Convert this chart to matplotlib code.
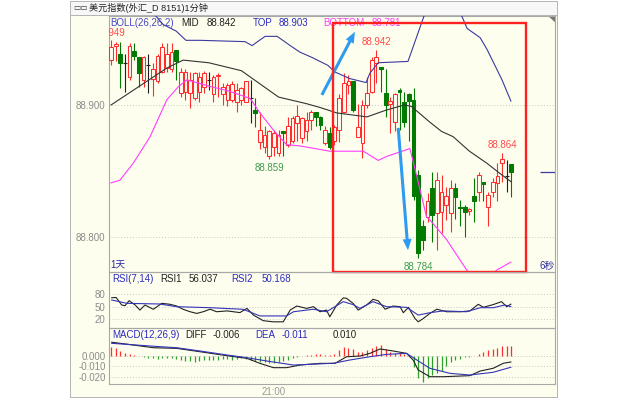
import matplotlib

matplotlib.use("Agg")

import matplotlib.pyplot as plt  # noqa: E402
from matplotlib.patches import Polygon, Rectangle  # noqa: E402

plt.rcParams["font.family"] = ["Liberation Sans", "Noto Sans CJK SC", "DejaVu Sans"]
plt.rcParams["axes.unicode_minus"] = False

# 1-minute candles
opens = [88.934, 88.945, 88.939, 88.932, 88.921, 88.941, 88.936, 88.919, 88.930, 88.920,
         88.918, 88.925, 88.928, 88.927, 88.942, 88.909, 88.910, 88.909, 88.905, 88.910,
         88.914, 88.919, 88.908, 88.922, 88.908, 88.904, 88.904, 88.902, 88.904, 88.902,
         88.905, 88.896, 88.872, 88.868, 88.861, 88.868, 88.864, 88.880, 88.870, 88.873,
         88.886, 88.875, 88.880, 88.889, 88.895, 88.891, 88.871, 88.879, 88.873, 88.881,
         88.895, 88.915, 88.918, 88.876, 88.871, 88.900, 88.910, 88.932, 88.929, 88.909,
         88.901, 88.887, 88.911, 88.902, 88.908, 88.904, 88.847, 88.808, 88.815, 88.837,
         88.818, 88.819, 88.824, 88.818, 88.837, 88.823, 88.823, 88.820, 88.831, 88.834,
         88.842, 88.823, 88.834, 88.841, 88.856, 88.846, 88.855]
highs = [88.949, 88.948, 88.948, 88.939, 88.947, 88.947, 88.936, 88.937, 88.939, 88.932,
         88.939, 88.947, 88.947, 88.947, 88.942, 88.928, 88.927, 88.925, 88.925, 88.925,
         88.926, 88.925, 88.923, 88.924, 88.917, 88.917, 88.918, 88.917, 88.914, 88.918,
         88.919, 88.905, 88.895, 88.884, 88.881, 88.881, 88.881, 88.880, 88.891, 88.892,
         88.900, 88.891, 88.895, 88.896, 88.895, 88.892, 88.884, 88.883, 88.885, 88.908,
         88.924, 88.923, 88.918, 88.901, 88.904, 88.921, 88.936, 88.942, 88.929, 88.927,
         88.906, 88.909, 88.913, 88.910, 88.909, 88.913, 88.851, 88.813, 88.833, 88.849,
         88.849, 88.847, 88.838, 88.843, 88.841, 88.828, 88.824, 88.822, 88.845, 88.849,
         88.842, 88.834, 88.845, 88.856, 88.864, 88.858, 88.855]
lows = [88.930, 88.933, 88.913, 88.910, 88.919, 88.934, 88.914, 88.914, 88.909, 88.907,
        88.917, 88.924, 88.925, 88.925, 88.919, 88.906, 88.904, 88.898, 88.904, 88.902,
        88.909, 88.911, 88.902, 88.906, 88.900, 88.899, 88.902, 88.895, 88.900, 88.902,
        88.886, 88.883, 88.867, 88.864, 88.859, 88.861, 88.861, 88.861, 88.868, 88.871,
        88.873, 88.871, 88.873, 88.881, 88.884, 88.881, 88.870, 88.867, 88.870, 88.872,
        88.894, 88.908, 88.895, 88.876, 88.860, 88.898, 88.909, 88.917, 88.910, 88.891,
        88.879, 88.880, 88.881, 88.883, 88.873, 88.828, 88.784, 88.790, 88.811, 88.796,
        88.790, 88.803, 88.813, 88.804, 88.814, 88.808, 88.800, 88.817, 88.811, 88.827,
        88.827, 88.808, 88.830, 88.827, 88.842, 88.834, 88.830]
closes = [88.944, 88.946, 88.932, 88.932, 88.945, 88.937, 88.924, 88.936, 88.930, 88.927,
          88.937, 88.944, 88.939, 88.940, 88.933, 88.925, 88.925, 88.919, 88.924, 88.921,
          88.924, 88.919, 88.921, 88.923, 88.914, 88.915, 88.916, 88.911, 88.913, 88.918,
          88.905, 88.894, 88.881, 88.877, 88.880, 88.879, 88.877, 88.879, 88.884, 88.890,
          88.892, 88.890, 88.889, 88.895, 88.891, 88.885, 88.881, 88.868, 88.883, 88.905,
          88.917, 88.918, 88.896, 88.883, 88.900, 88.909, 88.934, 88.936, 88.927, 88.900,
          88.903, 88.908, 88.910, 88.887, 88.903, 88.831, 88.788, 88.798, 88.827, 88.817,
          88.843, 88.834, 88.831, 88.837, 88.830, 88.822, 88.819, 88.821, 88.827, 88.847,
          88.840, 88.832, 88.842, 88.846, 88.859, 88.846, 88.849]

# BOLL(26,26,2) lines, sampled at candle positions
top_x = [0, 5, 9, 11.2, 14, 16.1, 19.1, 28.8, 30.3, 33.1, 35.7, 38.5, 40.6, 43.2, 46.6,
         48.1, 51.3, 54.8, 55.6, 57.4, 63.8, 66.4, 67.2, 70, 73, 75.4, 76.5, 79.3, 80.8,
         84, 85.9]
top_val = [88.975, 88.974, 88.970, 88.961, 88.956, 88.949, 88.949, 88.948, 88.945, 88.952,
           88.952, 88.945, 88.940, 88.936, 88.930, 88.925, 88.920, 88.917, 88.924, 88.932,
           88.933, 88.959, 88.967, 88.985, 88.985, 88.967, 88.958, 88.951, 88.942, 88.919,
           88.903]
mid_x = [0, 6, 12, 15.5, 21, 28, 32, 36, 42, 45, 48.5, 55, 59, 63, 64.5, 68.5, 71, 73.5,
         77, 80.7, 83.6, 85.9]
mid_val = [88.900, 88.914, 88.928, 88.934, 88.932, 88.926, 88.916, 88.906, 88.901, 88.898,
           88.894, 88.891, 88.896, 88.900, 88.899, 88.887, 88.880, 88.876, 88.865, 88.856,
           88.848, 88.842]
bot_x = [0, 1.9, 4.8, 8.4, 12, 14.5, 16.3, 18.4, 21.3, 24.9, 29.9, 32, 34.9, 37.7, 40.6,
         47, 54.2, 57.4, 59.2, 64.2, 65.7, 67.8, 68.5, 72.1, 76.4, 78, 80, 82.9, 85.9]
bot_val = [88.841, 88.843, 88.856, 88.876, 88.904, 88.914, 88.919, 88.917, 88.914, 88.911,
           88.905, 88.894, 88.881, 88.870, 88.869, 88.865, 88.865, 88.858, 88.861, 88.867,
           88.846, 88.815, 88.813, 88.798, 88.775, 88.768, 88.766, 88.775, 88.781]

# RSI(7,14)
rsi1_x = [0.15, 1.1, 2.3, 3.0, 3.9, 5.2, 6.2, 7.3, 9.1, 10.9, 12.7, 14.1, 15.5, 17, 18.4,
          19.8, 21.3, 22.7, 24.9, 26.3, 27.7, 29.2, 30.6, 32.7, 34.9, 37, 38.5, 39.9, 42,
          43.5, 44.9, 46.3, 47, 48.5, 49.9, 50.6, 52, 53.1, 54.9, 56.3, 57.4, 58.9, 60.6,
          62.1, 62.8, 63.9, 65.3, 66, 67.1, 68.5, 70, 72.1, 75, 77.1, 78.9, 80, 82.1, 83.9,
          85, 85.9]
rsi1_val = [71.4, 72, 54, 52.4, 64.3, 54, 42, 54, 43.8, 58, 55.7, 51.6, 43.8, 38, 34,
            38, 44, 38, 40, 38, 36, 46, 30, 16.7, 14, 14, 42, 51.6, 46,
            50, 38, 42, 26, 54, 71, 70, 58, 42, 54, 67.6, 64, 44, 51.6,
            50, 35.7, 48.5, 22, 14, 22, 34, 44, 38, 38, 40, 55.7, 48.6, 55, 62,
            50, 56.037]
rsi2_x = [0.15, 3.4, 10.5, 14.1, 21.3, 28.4, 32, 37.7, 39.2, 43.5, 46.3, 49.9, 52, 53.5,
          56.3, 59.2, 63.5, 66, 68.5, 71.4, 76.4, 79.3, 82.1, 84.6, 85.9]
rsi2_val = [66, 58, 56.4, 50, 47.6, 43.8, 28, 28, 38, 44, 38, 62, 55, 46,
            62, 50, 48.6, 30, 35.7, 40, 38, 47.6, 47.6, 54, 50.168]

# MACD(12,26,9)
diff_x = [0.15, 3.4, 9.1, 14.1, 19.1, 24.9, 29.2, 32, 34.9, 37.7, 40.6, 44.9, 48.1, 50.6,
          53.5, 55.6, 57.8, 60.6, 63.5, 64.9, 66, 68.5, 71.4, 77.1, 79.3, 82.1, 84.3, 85.9]
diff_val = [0.0128, 0.011, 0.0076, 0.007, 0.0038, 0.0, -0.0025, -0.0073, -0.0114, -0.0114,
            -0.0089, -0.0073, -0.0073, -0.001, -0.0003, 0.0022, 0.0064, 0.0045, 0.0022,
            -0.0041, -0.0136, -0.020, -0.020, -0.019, -0.0146, -0.012, -0.0072, -0.006]
dea_x = [0.15, 3.4, 10.5, 14.1, 19.1, 24.9, 29.2, 33.4, 39.2, 42.7, 47.8, 51.3, 55.6, 59.2,
         63.5, 65.7, 68.5, 72.8, 77.1, 82.1, 85.9]
dea_val = [0.0118, 0.0108, 0.0086, 0.0076, 0.0045, 0.0007, -0.0019, -0.005, -0.0089,
           -0.0082, -0.0072, -0.0041, -0.001, 0.0013, 0.0022, -0.0041, -0.012, -0.0168,
           -0.0184, -0.0158, -0.011]
macd_bar = [0.0086, 0.0070, 0.0044, 0.0022, 0.0013, 0.0006, -0.0003, -0.0016, -0.0025, -0.0025,
            -0.0032, -0.0025, -0.0025, -0.0019, -0.0032, -0.0041, -0.0048, -0.0051, -0.0057, -0.0048,
            -0.0044, -0.0041, -0.0038, -0.0041, -0.0035, -0.0035, -0.0041, -0.0035, -0.0025, -0.0035,
            -0.0041, -0.0051, -0.0057, -0.0063, -0.0067, -0.0067, -0.0063, -0.0051, -0.0038, -0.0025,
            -0.0013, -0.0003, 0.0006, 0.0010, 0.0013, 0.0013, 0.0010, 0.0006, 0.0013, 0.0054,
            0.0079, 0.0070, 0.0063, 0.0038, 0.0032, 0.0054, 0.0070, 0.0095, 0.0101, 0.0063,
            0.0038, 0.0029, 0.0022, 0.0019, 0.0006, -0.0105, -0.0209, -0.0247, -0.0216, -0.0184,
            -0.0168, -0.0143, -0.0095, -0.0063, -0.0044, -0.0029, -0.0016, -0.0010, -0.0003, 0.0019,
            0.0038, 0.0051, 0.0060, 0.0073, 0.0092, 0.0095, 0.0095]

TIME_TICK = 35
TIME_LABEL = "21:00"

# colours
BG = "#FEFEEE"
UP = "#FF2E2E"
DOWN = "#007A00"
DOJI = "#202020"
GRID = "#C8C8C8"
FRAME = "#A8A8A8"
NAVY = "#3A3AA0"
MAGENTA = "#FF3CFF"
BLUE_TXT = "#2B2BC0"
ARROW = "#2E9BF2"

W, H = 630, 400
X0, STEP = 111.0, 4.655  # pixel of first candle, pixels per candle
LEFT, RIGHT = 109, 555


def rect(y0, y1):
    return [LEFT / W, 1 - y1 / H, (RIGHT - LEFT) / W, (y1 - y0) / H]


def style_axes(ax, yticks, labels):
    ax.set_facecolor("none")
    ax.set_xlim((LEFT - X0) / STEP, (RIGHT - X0) / STEP)
    ax.set_yticks(yticks)
    ax.set_yticklabels(labels)
    ax.set_xticks([])
    ax.tick_params(axis="y", length=0, pad=2.5, labelsize=7, labelcolor="#8C8C8C")
    ax.grid(axis="y", color=GRID, ls=(0, (1, 2)), lw=0.7)
    for s in ax.spines.values():
        s.set_color(FRAME)
        s.set_linewidth(0.8)


fig = plt.figure(figsize=(6.3, 4.0), dpi=100, facecolor="white")

# window frame
bg = fig.add_axes([0, 0, 1, 1])
bg.set_xlim(0, W)
bg.set_ylim(H, 0)
bg.axis("off")
bg.add_patch(Rectangle((70, 0.5), 487, 14.5, fc="#F7F7F7", ec="#B4B4B4", lw=0.7))
bg.add_patch(Rectangle((70, 15), 487, 382, fc=BG, ec="#B4B4B4", lw=0.7))
bg.add_patch(Polygon([(548, 15.5), (555.5, 15.5), (555.5, 23)], fc="#777777", ec="none"))
bg.text(73, 7.5, "▭▭", fontsize=5.5, color="#333333", va="center", family="DejaVu Sans")
bg.text(89, 7.5, "美元指数(外汇_D 8151)1分钟", fontsize=6.6, color="#222222", va="center")

# ---- price panel ----
ax = fig.add_axes(rect(15.5, 272))
style_axes(ax, [88.8, 88.9], ["88.800", "88.900"])
ax.set_ylim(88.77348, 88.9678)

for i, (o, h, lo, c) in enumerate(zip(opens, highs, lows, closes)):
    col = UP if c > o else DOWN if c < o else DOJI
    ax.vlines(i, lo, h, color=col, lw=0.8, zorder=2)
    if c == o:
        ax.hlines(o, i - 0.4, i + 0.4, color=col, lw=0.8, zorder=3)
    else:
        ax.add_patch(Rectangle((i - 0.4, min(o, c)), 0.8, abs(c - o),
                               fc=BG if c > o else col, ec=col, lw=0.75, zorder=3))

ax.plot(top_x, top_val, color=NAVY, lw=0.8, zorder=4)
ax.plot(mid_x, mid_val, color="#333333", lw=0.8, zorder=4)
ax.plot(bot_x, bot_val, color=MAGENTA, lw=0.8, zorder=4)

# high / low markers
for idx, above, col in [(0, True, "#FF4A4A"), (57, True, "#FF4A4A"), (84, True, "#FF4A4A"),
                        (34, False, "#3E9B4E"), (66, False, "#3E9B4E")]:
    val = highs[idx] if above else lows[idx]
    ax.annotate(f"{val:.3f}", (idx, val), xytext=(0, 2 if above else -3),
                textcoords="offset points", ha="center", va="bottom" if above else "top",
                fontsize=7, color=col, clip_on=True, zorder=5)

# last price marker on the right
ax.hlines(closes[-1], 92.2, (RIGHT - X0) / STEP, color=NAVY, lw=0.9)

# blue arrows and red box
arrow_style = "simple,head_width=0.65,head_length=0.8,tail_width=0.22"
ax.annotate("", xy=(52.4, 88.9555), xytext=(45.3, 88.9076),
            arrowprops=dict(arrowstyle=arrow_style, mutation_scale=10, color=ARROW, lw=0,
                            shrinkA=0, shrinkB=0), zorder=6)
ax.annotate("", xy=(63.8, 88.790), xytext=(61.7, 88.8826),
            arrowprops=dict(arrowstyle=arrow_style, mutation_scale=10, color=ARROW, lw=0,
                            shrinkA=0, shrinkB=0), zorder=6)
ax.add_patch(Rectangle((47.75, 88.7737), 41.4, 88.9619 - 88.7737, fc="none", ec="#FF2020",
                       lw=1.7, zorder=7, clip_on=False))

bg.text(110, 265, "1天", fontsize=7, color="#2A2AA0", va="center")
bg.text(539, 266, "6秒", fontsize=7, color="#2A2AA0", va="center")

hy = 22.7
bg.text(110.5, hy, "BOLL(26,26,2)", fontsize=7, color="#4848C8", va="center")
bg.text(181.7, hy, "MID", fontsize=7, color="#222222", va="center")
bg.text(206.7, hy, f"{mid_val[-1]:.3f}", fontsize=7, color="#222222", va="center")
bg.text(252.7, hy, "TOP", fontsize=7, color=BLUE_TXT, va="center")
bg.text(279, hy, f"{top_val[-1]:.3f}", fontsize=7, color=BLUE_TXT, va="center")
bg.text(323.3, hy, "BOTTOM", fontsize=7, color=MAGENTA, va="center")
bg.text(371.7, hy, f"{bot_val[-1]:.3f}", fontsize=7, color=MAGENTA, va="center")

# ---- RSI panel ----
ax2 = fig.add_axes(rect(272, 328))
style_axes(ax2, [20, 50, 80], ["20", "50", "80"])
ax2.set_ylim(-0.7, 132.6)
ax2.plot(rsi1_x, rsi1_val, color="#222222", lw=0.8)
ax2.plot(rsi2_x, rsi2_val, color="#3434B8", lw=0.8)

ry = 279.3
bg.text(112, ry, "RSI(7,14)", fontsize=7, color=BLUE_TXT, va="center")
bg.text(160, ry, "RSI1", fontsize=7, color="#222222", va="center")
bg.text(188.3, ry, f"{rsi1_val[-1]:.3f}", fontsize=7, color="#222222", va="center")
bg.text(231.7, ry, "RSI2", fontsize=7, color=BLUE_TXT, va="center")
bg.text(261.7, ry, f"{rsi2_val[-1]:.3f}", fontsize=7, color=BLUE_TXT, va="center")

# ---- MACD panel ----
ax3 = fig.add_axes(rect(328, 384))
style_axes(ax3, [-0.02, -0.01, 0.0], ["-0.020", "-0.010", "0.000"])
ax3.set_ylim(-0.02695, 0.02638)
ax3.vlines(range(len(macd_bar)), 0, macd_bar,
           colors=[UP if v > 0 else "#2EA02E" for v in macd_bar], lw=0.9)
ax3.plot(diff_x, diff_val, color="#222222", lw=0.8)
ax3.plot(dea_x, dea_val, color="#3434B8", lw=0.8)
ax3.set_xticks([TIME_TICK])
ax3.set_xticklabels([TIME_LABEL])
ax3.tick_params(axis="x", length=0, pad=2.5, labelsize=7, labelcolor="#9A9A9A")

my = 335
macd_now = 2 * (diff_val[-1] - dea_val[-1])
bg.text(112, my, "MACD(12,26,9)", fontsize=7, color=BLUE_TXT, va="center")
bg.text(185, my, "DIFF", fontsize=7, color="#222222", va="center")
bg.text(212.7, my, f"{diff_val[-1]:.3f}", fontsize=7, color="#222222", va="center")
bg.text(255, my, "DEA", fontsize=7, color=BLUE_TXT, va="center")
bg.text(281.7, my, f"{dea_val[-1]:.3f}", fontsize=7, color=BLUE_TXT, va="center")
bg.text(332.7, my, f"{macd_now:.3f}", fontsize=7, color="#222222", va="center")

fig.savefig("out.png", dpi=100, facecolor="white")
